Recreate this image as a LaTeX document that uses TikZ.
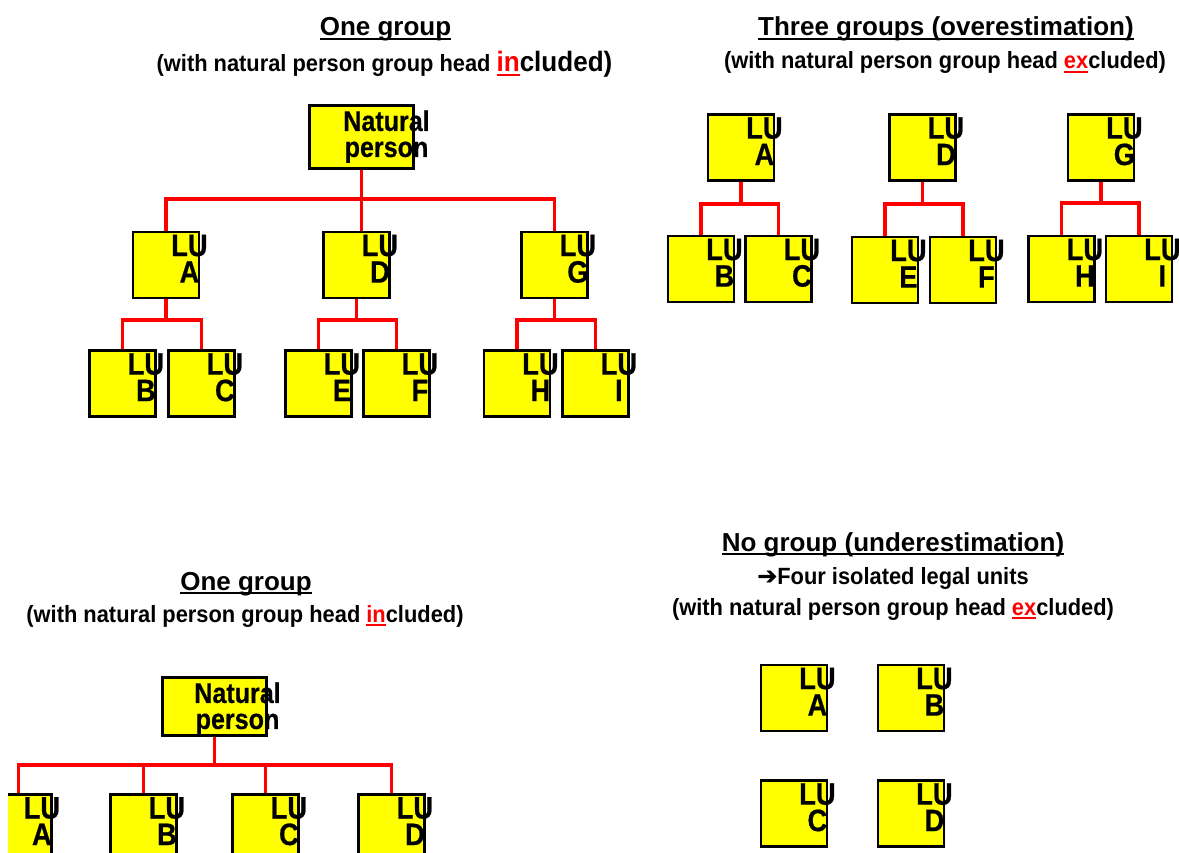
\documentclass[tikz,border=0pt]{standalone}
\usepackage{fontspec}
\setmainfont{Liberation Sans}
\newfontfamily\headfont{Liberation Sans}
\newfontfamily\notefont[FakeStretch=0.93]{Liberation Sans}
\newfontfamily\boxfont[FakeStretch=0.88,FakeBold=0.5]{Liberation Sans}
\newfontfamily\symfont[FakeBold=1.2]{DejaVu Sans}
\definecolor{lured}{RGB}{255,0,0}
\definecolor{luyellow}{RGB}{255,255,0}

% underline drawn just below the baseline, crossing descenders
\newlength\ulwidth
\newcommand\ulbar[2][black]{\settowidth\ulwidth{#2}\rlap{\textcolor{#1}{\rule[-4pt]{\ulwidth}{2pt}}}#2}

\tikzset{
  lubox/.style={draw=black, fill=luyellow, line width=2.8pt, minimum width=66pt, minimum height=66pt, inner sep=0pt},
  npbox/.style={lubox, minimum width=104pt, minimum height=63pt},
  lutext/.style={inner sep=0pt, anchor=north, align=center, font=\boxfont\bfseries\fontsize{31}{26.5}\selectfont},
  nptext/.style={inner sep=0pt, anchor=north, align=center, font=\boxfont\bfseries\fontsize{28.5}{26}\selectfont},
  conn/.style={draw=lured, line width=3.8pt},
  headline/.style={inner sep=0pt, anchor=base, font=\headfont\bfseries\fontsize{26}{30}\selectfont},
  noteline/.style={inner sep=0pt, anchor=base, font=\notefont\bfseries\fontsize{23.5}{28}\selectfont},
}

% legal unit box with its "LU <letter>" label
\newcommand\lunit[4]{%
  \node[lubox] (#1) at (#2,#3) {};
  \node[lutext] (#1-t) at ([xshift=-11pt,yshift=-4pt]#1.north east) {LU\\#4};
}

\begin{document}
\begin{tikzpicture}[x=1pt,y=-1pt]
\clip (0,0) rectangle (1179,853);
\fill[white] (0,0) rectangle (1179,853);

% ---------- headings ----------
\node[headline] (t1) at (385.5,36) {\ulbar{One group}};
\node[noteline] (s1) at (384.5,72) {(with natural person group head {\fontsize{28}{30}\selectfont\ulbar[lured]{\textcolor{lured}{in}}cluded)}};

\node[headline] (t2) at (946,36) {\ulbar{Three groups (overestimation)}};
\node[noteline] (s2) at (945,69) {(with natural person group head \ulbar[lured]{\textcolor{lured}{ex}}cluded)};

\node[headline] (t3) at (246,590) {\ulbar{One group}};
\node[noteline] (s3) at (245,622) {(with natural person group head \ulbar[lured]{\textcolor{lured}{in}}cluded)};

\node[headline] (t4) at (893,551) {\ulbar{No group (underestimation)}};
\node[noteline] (s4) at (893,584) {{\symfont\bfseries\fontsize{24}{26}\selectfont ➔}Four isolated legal units};
\node[noteline] (s5) at (893,615) {(with natural person group head \ulbar[lured]{\textcolor{lured}{ex}}cluded)};

% ---------- one group, natural person on top ----------
\node[npbox] (np1) at (361.5,137) {};
\node[nptext] (np1-t) at ([xshift=25pt,yshift=-6pt]np1.north) {Natural\\person};

\lunit{a1}{166}{265}{A}
\lunit{d1}{356.5}{265}{D}
\lunit{g1}{554.5}{265}{G}
\lunit{b1}{122.5}{383.5}{B}
\lunit{c1}{201.5}{383.5}{C}
\lunit{e1}{318.5}{383.5}{E}
\lunit{f1}{396.5}{383.5}{F}
\lunit{h1}{517}{383.5}{H}
\lunit{i1}{595.5}{383.5}{I}

\path (np1.south) ++(0,29) coordinate (bus1);
\draw[conn] (np1.south) -- (np1.south |- d1.north);
\draw[conn] (a1.north) |- (g1.north |- bus1) -- (g1.north);

\path (a1.south) ++(0,21) coordinate (busa1);
\draw[conn] (a1.south) -- (busa1);
\draw[conn] (b1.north) |- (c1.north |- busa1) -- (c1.north);
\path (d1.south) ++(0,21) coordinate (busd1);
\draw[conn] (d1.south) -- (busd1);
\draw[conn] (e1.north) |- (f1.north |- busd1) -- (f1.north);
\path (g1.south) ++(0,21) coordinate (busg1);
\draw[conn] (g1.south) -- (busg1);
\draw[conn] (h1.north) |- (i1.north |- busg1) -- (i1.north);

% ---------- three groups ----------
\lunit{a2}{741}{147.5}{A}
\lunit{d2}{922.5}{147.5}{D}
\lunit{g2}{1101}{147.5}{G}
\lunit{b2}{701}{269}{B}
\lunit{c2}{778.5}{269}{C}
\lunit{e2}{885}{270}{E}
\lunit{f2}{963}{270}{F}
\lunit{h2}{1061.5}{269}{H}
\lunit{i2}{1139}{269}{I}

\path (a2.south) ++(0,22) coordinate (busa2);
\draw[conn] (a2.south) -- (busa2);
\draw[conn] (b2.north) |- (c2.north |- busa2) -- (c2.north);
\path (d2.south) ++(0,22) coordinate (busd2);
\draw[conn] (d2.south) -- (busd2);
\draw[conn] (e2.north) |- (f2.north |- busd2) -- (f2.north);
\path (g2.south) ++(0,21) coordinate (busg2);
\draw[conn] (g2.south) -- (busg2);
\draw[conn] (h2.north) |- (i2.north |- busg2) -- (i2.north);

% ---------- one group, four units ----------
\node[npbox, minimum height=58pt] (np2) at (214.5,706.5) {};
\node[nptext] (np2-t) at ([xshift=23pt,yshift=-6pt]np2.north) {Natural\\person};

\begin{scope}
  \clip (8,700) rectangle (120,853);
  \lunit{a3}{18.5}{827.4}{A}
\end{scope}
\lunit{b3}{143.5}{827.4}{B}
\lunit{c3}{265.5}{827.4}{C}
\lunit{d3}{391.5}{827.4}{D}

\path (np2.south) ++(0,28) coordinate (bus3);
\draw[conn] (np2.south) -- (bus3);
\draw[conn] (a3.north) |- (d3.north |- bus3) -- (d3.north);
\draw[conn] (b3.north) -- (b3.north |- bus3);
\draw[conn] (c3.north) -- (c3.north |- bus3);

% ---------- no group ----------
\lunit{a4}{794}{698}{A}
\lunit{b4}{911}{698}{B}
\lunit{c4}{794}{813.5}{C}
\lunit{d4}{911}{813.5}{D}
\end{tikzpicture}
\end{document}
